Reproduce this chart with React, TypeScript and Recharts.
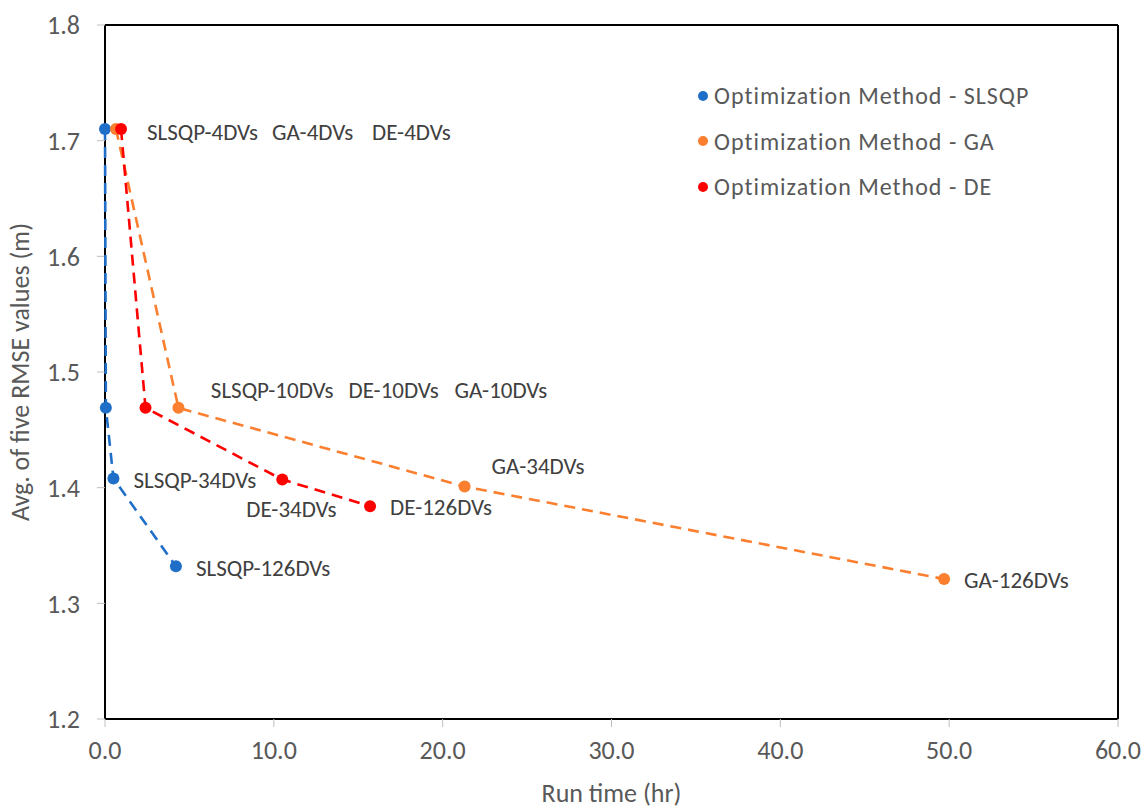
import React from "react";
import {
  ScatterChart,
  Scatter,
  XAxis,
  YAxis,
  ReferenceLine,
  Label,
} from "recharts";

// run time (hr) and average RMSE (m) per design-variable count
const dvLabels = ["4DVs", "10DVs", "34DVs", "126DVs"];

const slsqpTime = [0.0, 0.05, 0.5, 4.2];
const slsqpRmse = [1.71, 1.469, 1.408, 1.332];

const gaTime = [0.65, 4.35, 21.3, 49.7];
const gaRmse = [1.71, 1.469, 1.401, 1.321];

const deTime = [0.95, 2.4, 10.5, 15.7];
const deRmse = [1.71, 1.469, 1.407, 1.384];

const xTicks = [0, 10, 20, 30, 40, 50, 60];
const yTicks = [1.2, 1.3, 1.4, 1.5, 1.6, 1.7, 1.8];

const FONT = "Carlito, Calibri, Lato, 'Open Sans', sans-serif";
const BLUE = "#1f6fc9";
const ORANGE = "#fb7f2e";
const RED = "#ff0000";

// where each point label sits, relative to its marker (px)
const labelOffset: Record<string, [number, number]> = {
  "SLSQP-4DVs": [42, 3],
  "GA-4DVs": [156, 3],
  "DE-4DVs": [251, 3],
  "SLSQP-10DVs": [105, -18],
  "DE-10DVs": [203, -18],
  "GA-10DVs": [276, -18],
  "SLSQP-34DVs": [20, 2],
  "DE-34DVs": [-36, 29],
  "DE-126DVs": [20, 1],
  "GA-34DVs": [27, -21],
  "SLSQP-126DVs": [20, 2],
  "GA-126DVs": [20, 1],
};

const build = (prefix: string, times: number[], rmse: number[]) =>
  times.map((t, i) => ({ x: t, y: rmse[i], name: `${prefix}-${dvLabels[i]}` }));

const slsqpData = build("SLSQP", slsqpTime, slsqpRmse);
const gaData = build("GA", gaTime, gaRmse);
const deData = build("DE", deTime, deRmse);

const makeShape = (color: string) => (props: any) => {
  const { cx, cy, payload } = props;
  const [dx, dy] = labelOffset[payload.name] || [20, 0];
  return (
    <g>
      <circle cx={cx} cy={cy} r={6} fill={color} />
      <text
        x={cx + dx}
        y={cy + dy}
        dominantBaseline="central"
        fontSize={23}
        fill="#404040"
        fontFamily={FONT}
      >
        {payload.name}
      </text>
    </g>
  );
};

const legendItems = [
  { label: "Optimization Method - SLSQP", color: BLUE },
  { label: "Optimization Method - GA", color: ORANGE },
  { label: "Optimization Method - DE", color: RED },
];

const lineStyle = (color: string) => ({
  stroke: color,
  strokeWidth: 2.6,
  strokeDasharray: "11 7",
});

export default function App() {
  return (
    <div style={{ position: "absolute", left: 0, top: 0, width: 1143, height: 809, background: "#fff" }}>
      <ScatterChart
        width={1143}
        height={809}
        margin={{ top: 25, right: 25, bottom: 0, left: 0 }}
        style={{ fontFamily: FONT }}
      >
        <XAxis
          type="number"
          dataKey="x"
          domain={[0, 60]}
          ticks={xTicks}
          tickFormatter={(v: number) => v.toFixed(1)}
          axisLine={{ stroke: "#000", strokeWidth: 2 }}
          tickLine={{ stroke: "#bfbfbf" }}
          tickSize={8}
          tickMargin={14}
          tick={{ fill: "#595959", fontSize: 26 }}
          height={90}
        >
          <Label value="Run time (hr)" position="insideBottom" offset={7} fill="#595959" fontSize={26} />
        </XAxis>
        <YAxis
          type="number"
          dataKey="y"
          domain={[1.2, 1.8]}
          ticks={yTicks}
          tickFormatter={(v: number) => v.toFixed(1)}
          axisLine={{ stroke: "#000", strokeWidth: 2 }}
          tickLine={{ stroke: "#bfbfbf" }}
          tickSize={8}
          tickMargin={17}
          tick={{ fill: "#595959", fontSize: 26 }}
          width={105}
        >
          <Label
            value="Avg. of five RMSE values (m)"
            angle={-90}
            position="insideLeft"
            offset={20}
            style={{ textAnchor: "middle" }}
            fill="#595959"
            fontSize={26}
          />
        </YAxis>
        <ReferenceLine y={1.8} stroke="#000" strokeWidth={2} />
        <ReferenceLine x={60} stroke="#000" strokeWidth={2} />
        <Scatter
          name="SLSQP"
          data={slsqpData}
          line={lineStyle(BLUE)}
          shape={makeShape(BLUE)}
          isAnimationActive={false}
        />
        <Scatter
          name="GA"
          data={gaData}
          line={lineStyle(ORANGE)}
          shape={makeShape(ORANGE)}
          isAnimationActive={false}
        />
        <Scatter
          name="DE"
          data={deData}
          line={lineStyle(RED)}
          shape={makeShape(RED)}
          isAnimationActive={false}
        />
      </ScatterChart>
      <div style={{ position: "absolute", left: 698, top: 73, fontFamily: FONT }}>
        {legendItems.map((it) => (
          <div
            key={it.label}
            style={{ display: "flex", alignItems: "center", height: 45.5, color: "#595959", fontSize: 24, letterSpacing: 1 }}
          >
            <span
              style={{ width: 10, height: 10, borderRadius: "50%", background: it.color, marginRight: 6, display: "inline-block" }}
            />
            {it.label}
          </div>
        ))}
      </div>
    </div>
  );
}
